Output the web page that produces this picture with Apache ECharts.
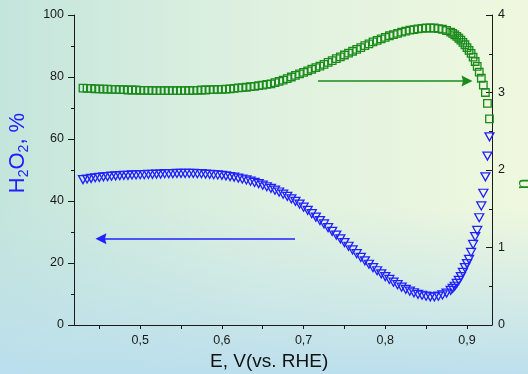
<!DOCTYPE html>
<html>
<head>
<meta charset="utf-8">
<script src="https://cdn.jsdelivr.net/npm/echarts@6/dist/echarts.min.js"></script>
<style>
html,body{margin:0;padding:0;}
#chart{width:528px;height:374px;}
</style>
</head>
<body>
<div id="chart"></div>
<script>
// Potential, V vs RHE
var potential = [
 0.430,0.435,0.440,0.445,0.450,0.455,0.460,0.465,0.470,0.475,
 0.480,0.485,0.490,0.495,0.500,0.505,0.510,0.515,0.520,0.525,
 0.530,0.535,0.540,0.545,0.550,0.555,0.560,0.565,0.570,0.575,
 0.580,0.585,0.590,0.595,0.600,0.605,0.610,0.615,0.620,0.625,
 0.630,0.635,0.640,0.645,0.650,0.655,0.660,0.665,0.670,0.675,
 0.680,0.685,0.690,0.695,0.700,0.705,0.710,0.715,0.720,0.725,
 0.730,0.735,0.740,0.745,0.750,0.755,0.760,0.765,0.770,0.775,
 0.780,0.785,0.790,0.795,0.800,0.805,0.810,0.815,0.820,0.825,
 0.830,0.835,0.840,0.845,0.850,0.855,0.860,0.865,0.870,0.875,
 0.880,0.8825,0.885,0.8875,0.890,0.8925,0.895,0.8975,0.900,0.9025,
 0.905,0.9075,0.910,0.9125,0.915,0.9175,0.920,0.9225,0.925,0.9275
];
// H2O2 yield, %
var h2o2 = [
 46.9,47.1,47.3,47.5,47.6,47.8,47.9,48.0,48.1,48.2,
 48.3,48.3,48.4,48.4,48.5,48.5,48.6,48.6,48.7,48.7,
 48.8,48.8,48.8,48.9,48.9,48.9,48.9,48.9,48.8,48.8,
 48.7,48.6,48.5,48.4,48.3,48.1,47.9,47.7,47.4,47.1,
 46.8,46.4,46.0,45.6,45.1,44.6,44.1,43.5,42.9,42.2,
 41.5,40.7,39.9,39.0,38.0,37.0,35.9,34.8,33.7,32.6,
 31.4,30.2,29.0,27.8,26.6,25.4,24.2,23.0,21.8,20.7,
 19.6,18.5,17.5,16.5,15.6,14.7,13.8,13.0,12.2,11.5,
 10.9,10.4,9.9,9.6,9.3,9.1,9.1,9.3,9.7,10.3,
 11.2,11.8,12.5,13.4,14.4,15.6,17.0,18.5,19.8,21.2,
 23.4,26.0,28.5,30.5,34.6,38.4,42.5,47.8,54.5,60.7
];
// electron transfer number n
var nValues = [
 3.056,3.052,3.052,3.048,3.048,3.044,3.044,3.040,3.040,3.036,
 3.036,3.032,3.032,3.032,3.028,3.028,3.028,3.024,3.024,3.024,
 3.024,3.024,3.024,3.024,3.024,3.024,3.024,3.028,3.028,3.032,
 3.032,3.036,3.036,3.040,3.040,3.044,3.048,3.052,3.060,3.064,
 3.068,3.076,3.080,3.088,3.096,3.104,3.112,3.128,3.144,3.160,
 3.180,3.200,3.220,3.240,3.260,3.280,3.300,3.320,3.340,3.364,
 3.388,3.412,3.436,3.460,3.484,3.508,3.532,3.556,3.580,3.604,
 3.628,3.652,3.672,3.692,3.712,3.732,3.748,3.764,3.780,3.792,
 3.804,3.812,3.820,3.828,3.832,3.832,3.832,3.824,3.816,3.800,
 3.780,3.764,3.744,3.724,3.700,3.676,3.648,3.616,3.580,3.544,
 3.504,3.456,3.400,3.336,3.264,3.184,3.096,3.000,2.860,2.660
];
var xTickValues = [0.45,0.50,0.55,0.60,0.65,0.70,0.75,0.80,0.85,0.90];
var xLabelValues = [0.5,0.6,0.7,0.8,0.9];
// arrows: [E start, E end, level]
var h2o2Arrow = [0.6895, 0.452, 27.8];
var nArrow = [0.7177, 0.9, 3.148];

var blueData = potential.map(function(x,i){return [x,h2o2[i]];});
var greenData = potential.map(function(x,i){return [x,nValues[i]];});

var BLUE = '#2020ff', GREEN = '#1a8a1a';
var chart = echarts.init(document.getElementById('chart'), null, {renderer:'canvas'});
var axisCol = '#1a1a1a';
var arrowPath = 'path://M0,0L3,11L0,9.5L-3,11Z';
var option = {
  animation:false,
  backgroundColor:'transparent',
  graphic:[
    {type:'rect', z:-10, silent:true, left:0, top:0, shape:{width:528,height:374},
     style:{fill:new echarts.graphic.LinearGradient(0,0,1,0,[
       {offset:0,color:'#c4e5dc'},{offset:0.5,color:'#dff1e0'},{offset:1,color:'#eff8de'}])}},
    {type:'rect', z:-9, silent:true, left:0, top:0, shape:{width:528,height:374},
     style:{fill:new echarts.graphic.LinearGradient(0,0,0,1,[
       {offset:0,color:'rgba(190,225,235,0)'},{offset:0.55,color:'rgba(190,225,235,0)'},{offset:1,color:'rgba(186,222,238,0.95)'}])}},
    {type:'text', silent:true, x:18, y:153, rotation:Math.PI/2,
     style:{text:'{a|H}{s|2}{a|O}{s|2}{a|, %}', align:'center', verticalAlign:'middle',
       rich:{a:{fontFamily:'Liberation Sans, Arial', fontSize:22, fill:BLUE, lineHeight:27, verticalAlign:'middle'},
             s:{fontFamily:'Liberation Sans, Arial', fontSize:14, fill:BLUE, lineHeight:27, verticalAlign:'bottom', padding:[10,0,0,0]}}}},
    {type:'text', silent:true, x:524, y:184, rotation:Math.PI/2,
     style:{text:'n', align:'center', verticalAlign:'middle', fontFamily:'Liberation Sans, Arial', fontSize:20, fill:GREEN}},
    {type:'text', silent:true, left:210, top:352,
     style:{text:'E, V(vs. RHE)', fontFamily:'Liberation Sans, Arial', fontSize:19, fill:'#111'}}
  ],
  grid:{left:74, right:36, top:15, bottom:49},
  xAxis:{
    type:'value', min:0.419, max:0.9306,
    axisLine:{show:true, lineStyle:{color:axisCol, width:1}},
    axisTick:{show:true, inside:false, length:4, customValues:xTickValues, lineStyle:{color:axisCol}},
    axisLabel:{show:true, customValues:xLabelValues, margin:9, fontFamily:'Liberation Sans, Arial', fontSize:12.5, color:'#1a1a1a',
      formatter:function(v){return v.toFixed(1).replace('.',',');}},
    splitLine:{show:false}
  },
  yAxis:[
    {type:'value', min:0, max:100, interval:20, position:'left',
     axisLine:{show:true, lineStyle:{color:axisCol, width:1}},
     axisTick:{show:true, inside:false, length:6, lineStyle:{color:axisCol}},
     minorTick:{show:true, splitNumber:2, length:3, lineStyle:{color:axisCol}},
     axisLabel:{margin:10, fontFamily:'Liberation Sans, Arial', fontSize:12.5, color:'#1a1a1a'},
     splitLine:{show:false}, minorSplitLine:{show:false}},
    {type:'value', min:0, max:4, interval:1, position:'right',
     axisLine:{show:true, lineStyle:{color:axisCol, width:1}},
     axisTick:{show:true, inside:true, length:6, lineStyle:{color:axisCol}},
     minorTick:{show:true, splitNumber:2, length:3, lineStyle:{color:axisCol}},
     axisLabel:{margin:6, fontFamily:'Liberation Sans, Arial', fontSize:12.5, color:'#1a1a1a'},
     splitLine:{show:false}, minorSplitLine:{show:false}}
  ],
  series:[
    {name:'H2O2', type:'scatter', yAxisIndex:0, data:blueData, z:2,
     symbol:'triangle', symbolRotate:180, symbolSize:[9,8],
     itemStyle:{color:'rgba(255,255,255,0)', borderColor:BLUE, borderWidth:1.3, opacity:1},
     markLine:{silent:true, symbol:['none',arrowPath], symbolSize:11, label:{show:false},
       itemStyle:{color:BLUE},
       lineStyle:{color:BLUE, width:1.5, type:'solid'},
       data:[[{coord:[h2o2Arrow[0],h2o2Arrow[2]]},{coord:[h2o2Arrow[1],h2o2Arrow[2]]}]]}},
    {name:'n', type:'scatter', yAxisIndex:1, data:greenData, z:3,
     symbol:'rect', symbolSize:7.5,
     itemStyle:{color:'rgba(255,255,255,0)', borderColor:GREEN, borderWidth:1.3, opacity:1},
     markLine:{silent:true, symbol:['none',arrowPath], symbolSize:11, label:{show:false},
       itemStyle:{color:GREEN},
       lineStyle:{color:GREEN, width:1.5, type:'solid'},
       data:[[{coord:[nArrow[0],nArrow[2]]},{coord:[nArrow[1],nArrow[2]]}]]}}
  ]
};
chart.setOption(option);
</script>
</body>
</html>
